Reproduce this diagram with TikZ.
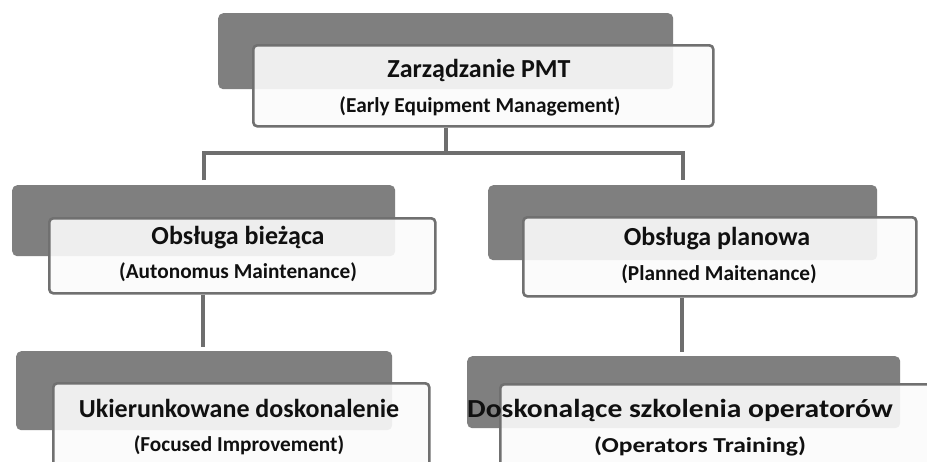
\documentclass[tikz,border=0pt]{standalone}
\usepackage{fontspec}
\setmainfont{Carlito}
\usetikzlibrary{calc}
\definecolor{darkfill}{HTML}{7F7F7F}
\definecolor{bord}{HTML}{707070}
\definecolor{connc}{HTML}{6E6E6E}
\definecolor{boxfill}{HTML}{FBFBFB}
\definecolor{txt}{HTML}{101010}
\tikzset{
  darkbox/.style={draw=none, fill=darkfill, rounded corners=5pt},
  whitebox/.style={draw=bord, line width=2.6pt, fill=boxfill, fill opacity=0.9, rounded corners=4pt},
  conn/.style={draw=connc, line width=4pt, line join=miter},
  ttl/.style={anchor=base, inner sep=0pt, text=txt, font=\bfseries\fontsize{26}{30}\selectfont},
  sub/.style={anchor=base, inner sep=0pt, text=txt, font=\bfseries\fontsize{21.3}{25}\selectfont},
}
\begin{document}
\begin{tikzpicture}[x=1pt, y=-1pt]
\useasboundingbox (0,0) rectangle (927,461);
\clip (0,0) rectangle (927,461);
\fill[white] (0,0) rectangle (927,461);
% boxes
\node[darkbox, anchor=north west, minimum width=455pt, minimum height=76pt] (d1) at (218,13) {};
\node[whitebox, anchor=north west, minimum width=460pt, minimum height=81pt] (w1) at (252,44) {};
\node[darkbox, anchor=north west, minimum width=383pt, minimum height=71pt] (d2) at (12,185) {};
\node[whitebox, anchor=north west, minimum width=386pt, minimum height=75pt] (w2) at (48,217) {};
\node[darkbox, anchor=north west, minimum width=389pt, minimum height=75pt] (d3) at (488,185) {};
\node[whitebox, anchor=north west, minimum width=393pt, minimum height=79pt] (w3) at (522,216) {};
\node[darkbox, anchor=north west, minimum width=376pt, minimum height=79pt] (d4) at (16,351) {};
\node[whitebox, anchor=north west, minimum width=376pt, minimum height=95pt] (w4) at (52,382) {};
\node[darkbox, anchor=north west, minimum width=433pt, minimum height=72pt] (d5) at (467,356) {};
\node[whitebox, anchor=north west, minimum width=445pt, minimum height=95pt] (w5) at (499,383) {};
% texts
\node[ttl] (t1) at (479,77) {Zarządzanie PMT};
\node[sub] (s1) at (480,112) {(Early Equipment Management)};
\node[ttl] (t2) at (238,244) {Obsługa bieżąca};
\node[sub] (s2) at (238,278) {(Autonomus Maintenance)};
\node[ttl] (t3) at (717,245) {Obsługa planowa};
\node[sub] (s3) at (719,280) {(Planned Maitenance)};
\node[ttl] (t4) at (239,417) {Ukierunkowane doskonalenie};
\node[sub] (s4) at (239,451) {(Focused Improvement)};
\node[ttl] (t5) at (680,417) {\scalebox{1.137}[1]{Doskonalące szkolenia operatorów}};
\node[sub] (s5) at (700,452) {\scalebox{1.2}[1]{(Operators Training)}};
% connectors
\coordinate (c1) at (446,153);
\coordinate (cl) at (204,153);
\coordinate (cr) at (683,153);
\coordinate (cl2) at (203,300);
\coordinate (cr2) at (682,300);
\draw[conn] (w1.south -| c1) -- (c1);
\draw[conn] ($(d2.north -| cl)+(0,-5)$) -- (cl) -- (cr) -- ($(d3.north -| cr)+(0,-5)$);
\draw[conn] (w2.south -| cl2) -- ($(d4.north -| cl2)+(0,-4)$);
\draw[conn] (w3.south -| cr2) -- ($(d5.north -| cr2)+(0,-4)$);
\end{tikzpicture}
\end{document}
